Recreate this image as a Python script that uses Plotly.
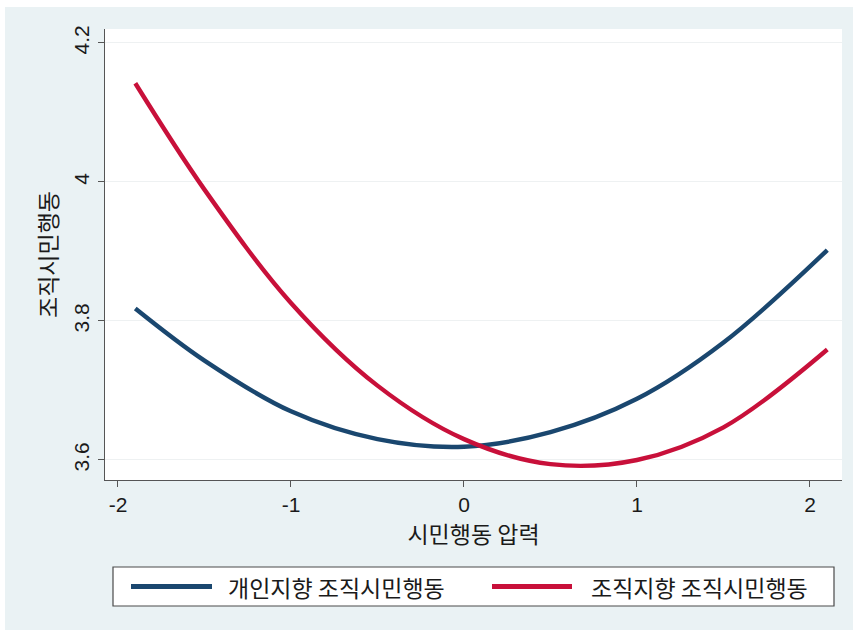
import plotly.graph_objects as go

# 시민행동 압력 (x) and predicted 조직시민행동 for each group
pressure = [-1.9, -1.5, -1.0, -0.5, 0.0, 0.5, 1.0, 1.5, 2.1]
individual_ocb = [3.818, 3.743, 3.670, 3.630, 3.619, 3.640, 3.688, 3.769, 3.902]
organizational_ocb = [4.142, 3.989, 3.826, 3.707, 3.630, 3.594, 3.600, 3.647, 3.759]

series_names = ["개인지향 조직시민행동", "조직지향 조직시민행동"]
series_colors = ["#1a476f", "#c8103a"]

y_ticks = [3.6, 3.8, 4.0, 4.2]
y_tick_text = ["3.6", "3.8", "4", "4.2"]
x_ticks = [-2, -1, 0, 1, 2]
x_tick_text = ["-2", "-1", "0", "1", "2"]

x_title = "시민행동 압력"
y_title = "조직시민행동"

FONT = "Liberation Sans, Noto Sans CJK KR, sans-serif"
KFONT = "Noto Sans CJK KR, Liberation Sans, sans-serif"
TEXT = "#1a1a1a"
BG = "#eaf2f4"
NUM_SIZE = 21
KOR_SIZE = 23

W, H = 853, 632
L, R, T, B = 105, 11, 29, 152
PW, PH = W - L - R, H - T - B

fig = go.Figure()
for name, ys, col in zip(series_names, [individual_ocb, organizational_ocb], series_colors):
    fig.add_trace(go.Scatter(
        x=pressure, y=ys, mode="lines", name=name,
        line=dict(color=col, width=4.4, shape="spline", smoothing=1.0),
        showlegend=False, hoverinfo="x+y",
    ))


def px_x(p):
    return (p - L) / PW


def px_y(p):
    return (H - B - p) / PH


shapes = []
# white frame strips around the graph region
shapes.append(dict(type="rect", xref="paper", yref="paper", x0=px_x(0), x1=px_x(W),
                   y0=px_y(0), y1=px_y(7), fillcolor="white", line=dict(width=0), layer="below"))
shapes.append(dict(type="rect", xref="paper", yref="paper", x0=px_x(0), x1=px_x(5),
                   y0=px_y(0), y1=px_y(H), fillcolor="white", line=dict(width=0), layer="below"))
shapes.append(dict(type="rect", xref="paper", yref="paper", x0=px_x(0), x1=px_x(W),
                   y0=px_y(630), y1=px_y(H), fillcolor="white", line=dict(width=0), layer="below"))

# legend box with line samples
shapes.append(dict(type="rect", xref="paper", yref="paper",
                   x0=px_x(113), x1=px_x(834), y0=px_y(606), y1=px_y(567),
                   fillcolor="white", line=dict(color="#4a4a4a", width=1.2)))
legend_y = px_y(586.5)
sample_spans = [(131, 212), (492, 572)]
text_starts = [226, 589]
annotations = []
for (a, b), col, name, tx in zip(sample_spans, series_colors, series_names, text_starts):
    shapes.append(dict(type="line", xref="paper", yref="paper",
                       x0=px_x(a), x1=px_x(b), y0=legend_y, y1=legend_y,
                       line=dict(color=col, width=5)))
    annotations.append(dict(xref="paper", yref="paper", x=px_x(tx), y=legend_y,
                            text=name, showarrow=False, xanchor="left", yanchor="middle",
                            font=dict(family=KFONT, size=KOR_SIZE, color=TEXT)))

fig.update_layout(
    width=W, height=H, autosize=False,
    margin=dict(l=L, r=R, t=T, b=B, pad=0),
    paper_bgcolor=BG, plot_bgcolor="white",
    font=dict(family=FONT, size=NUM_SIZE, color=TEXT),
    shapes=shapes, annotations=annotations,
    showlegend=False,
    xaxis=dict(
        range=[-2.075, 2.185], tickvals=x_ticks, ticktext=x_tick_text,
        showgrid=False, zeroline=False,
        showline=True, linecolor="#555555", linewidth=1.3,
        ticks="outside", ticklen=6, tickcolor="#555555", tickwidth=1.2,
        tickfont=dict(family=FONT, size=NUM_SIZE, color=TEXT),
        title=dict(text=x_title, font=dict(family=KFONT, size=KOR_SIZE, color=TEXT), standoff=8),
    ),
    yaxis=dict(
        range=[3.5712, 4.2201], tickvals=y_ticks, ticktext=y_tick_text,
        showgrid=True, gridcolor="#eef1f2", gridwidth=1, zeroline=False,
        showline=True, linecolor="#555555", linewidth=1.3,
        ticks="outside", ticklen=6, tickcolor="#555555", tickwidth=1.2,
        tickangle=-90,
        tickfont=dict(family=FONT, size=NUM_SIZE, color=TEXT),
        title=dict(text=y_title, font=dict(family=KFONT, size=KOR_SIZE, color=TEXT), standoff=6),
    ),
)

fig.write_html("out.html")
